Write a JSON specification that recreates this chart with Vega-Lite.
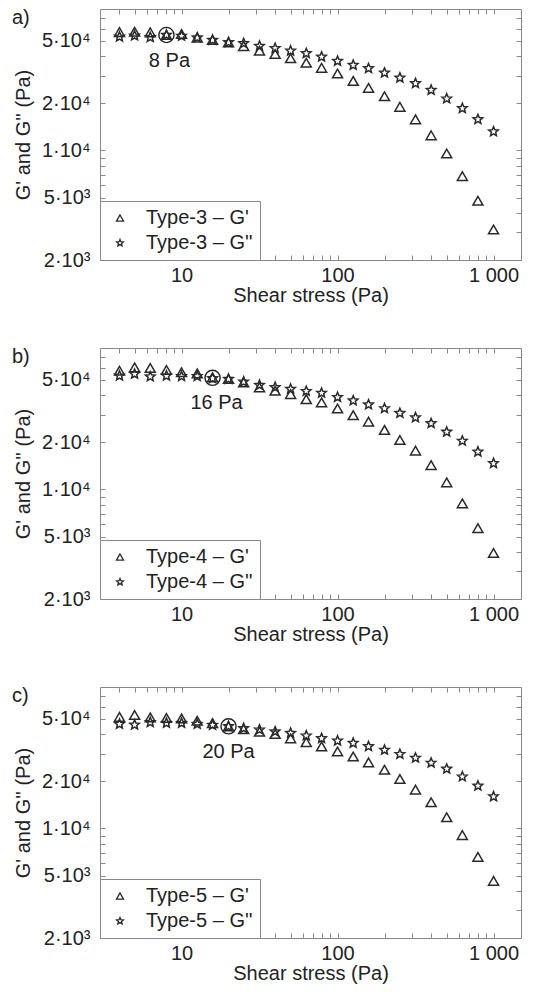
{
  "$schema": "https://vega.github.io/schema/vega-lite/v6.json",
  "padding": {"left": 11, "top": 7, "right": 5, "bottom": 5},
  "background": "white",
  "datasets": {
    "a": [
      {"s":4,"G":57000,"k":"Type-3 – G'"},{"s":5,"G":57300,"k":"Type-3 – G'"},{"s":6.3,"G":56800,"k":"Type-3 – G'"},{"s":8,"G":54600,"k":"Type-3 – G'"},{"s":10,"G":55400,"k":"Type-3 – G'"},{"s":12.6,"G":52500,"k":"Type-3 – G'"},{"s":15.8,"G":50700,"k":"Type-3 – G'"},{"s":20,"G":49000,"k":"Type-3 – G'"},{"s":25,"G":46400,"k":"Type-3 – G'"},{"s":31.6,"G":43300,"k":"Type-3 – G'"},{"s":39.8,"G":41300,"k":"Type-3 – G'"},{"s":50,"G":38800,"k":"Type-3 – G'"},{"s":63,"G":36300,"k":"Type-3 – G'"},{"s":79,"G":33700,"k":"Type-3 – G'"},{"s":100,"G":31000,"k":"Type-3 – G'"},{"s":126,"G":27800,"k":"Type-3 – G'"},{"s":158,"G":25100,"k":"Type-3 – G'"},{"s":200,"G":22200,"k":"Type-3 – G'"},{"s":251,"G":19000,"k":"Type-3 – G'"},{"s":316,"G":15800,"k":"Type-3 – G'"},{"s":398,"G":12500,"k":"Type-3 – G'"},{"s":501,"G":9570,"k":"Type-3 – G'"},{"s":631,"G":6860,"k":"Type-3 – G'"},{"s":794,"G":4780,"k":"Type-3 – G'"},{"s":1000,"G":3130,"k":"Type-3 – G'"},
      {"s":4,"G":53200,"k":"Type-3 – G''"},{"s":5,"G":54000,"k":"Type-3 – G''"},{"s":6.3,"G":52800,"k":"Type-3 – G''"},{"s":8,"G":54600,"k":"Type-3 – G''"},{"s":10,"G":53800,"k":"Type-3 – G''"},{"s":12.6,"G":52500,"k":"Type-3 – G''"},{"s":15.8,"G":50700,"k":"Type-3 – G''"},{"s":20,"G":49000,"k":"Type-3 – G''"},{"s":25,"G":48300,"k":"Type-3 – G''"},{"s":31.6,"G":46400,"k":"Type-3 – G''"},{"s":39.8,"G":44900,"k":"Type-3 – G''"},{"s":50,"G":43300,"k":"Type-3 – G''"},{"s":63,"G":41700,"k":"Type-3 – G''"},{"s":79,"G":39600,"k":"Type-3 – G''"},{"s":100,"G":37200,"k":"Type-3 – G''"},{"s":126,"G":35100,"k":"Type-3 – G''"},{"s":158,"G":33400,"k":"Type-3 – G''"},{"s":200,"G":31300,"k":"Type-3 – G''"},{"s":251,"G":29100,"k":"Type-3 – G''"},{"s":316,"G":26800,"k":"Type-3 – G''"},{"s":398,"G":24300,"k":"Type-3 – G''"},{"s":501,"G":21400,"k":"Type-3 – G''"},{"s":631,"G":18600,"k":"Type-3 – G''"},{"s":794,"G":15800,"k":"Type-3 – G''"},{"s":1000,"G":13200,"k":"Type-3 – G''"}
    ],
    "b": [
      {"s":4,"G":57300,"k":"Type-4 – G'"},{"s":5,"G":60200,"k":"Type-4 – G'"},{"s":6.3,"G":59600,"k":"Type-4 – G'"},{"s":8,"G":57900,"k":"Type-4 – G'"},{"s":10,"G":56000,"k":"Type-4 – G'"},{"s":12.6,"G":55100,"k":"Type-4 – G'"},{"s":15.8,"G":52000,"k":"Type-4 – G'"},{"s":20,"G":50700,"k":"Type-4 – G'"},{"s":25,"G":48300,"k":"Type-4 – G'"},{"s":31.6,"G":44900,"k":"Type-4 – G'"},{"s":39.8,"G":42700,"k":"Type-4 – G'"},{"s":50,"G":40600,"k":"Type-4 – G'"},{"s":63,"G":37700,"k":"Type-4 – G'"},{"s":79,"G":36000,"k":"Type-4 – G'"},{"s":100,"G":32900,"k":"Type-4 – G'"},{"s":126,"G":29800,"k":"Type-4 – G'"},{"s":158,"G":27100,"k":"Type-4 – G'"},{"s":200,"G":24000,"k":"Type-4 – G'"},{"s":251,"G":20700,"k":"Type-4 – G'"},{"s":316,"G":17700,"k":"Type-4 – G'"},{"s":398,"G":14300,"k":"Type-4 – G'"},{"s":501,"G":11100,"k":"Type-4 – G'"},{"s":631,"G":8150,"k":"Type-4 – G'"},{"s":794,"G":5670,"k":"Type-4 – G'"},{"s":1000,"G":3930,"k":"Type-4 – G'"},
      {"s":4,"G":53200,"k":"Type-4 – G''"},{"s":5,"G":54600,"k":"Type-4 – G''"},{"s":6.3,"G":52500,"k":"Type-4 – G''"},{"s":8,"G":53200,"k":"Type-4 – G''"},{"s":10,"G":52800,"k":"Type-4 – G''"},{"s":12.6,"G":52800,"k":"Type-4 – G''"},{"s":15.8,"G":51200,"k":"Type-4 – G''"},{"s":20,"G":50700,"k":"Type-4 – G''"},{"s":25,"G":48700,"k":"Type-4 – G''"},{"s":31.6,"G":46400,"k":"Type-4 – G''"},{"s":39.8,"G":44900,"k":"Type-4 – G''"},{"s":50,"G":43800,"k":"Type-4 – G''"},{"s":63,"G":42400,"k":"Type-4 – G''"},{"s":79,"G":41300,"k":"Type-4 – G''"},{"s":100,"G":38800,"k":"Type-4 – G''"},{"s":126,"G":36900,"k":"Type-4 – G''"},{"s":158,"G":34800,"k":"Type-4 – G''"},{"s":200,"G":32900,"k":"Type-4 – G''"},{"s":251,"G":30700,"k":"Type-4 – G''"},{"s":316,"G":28800,"k":"Type-4 – G''"},{"s":398,"G":26400,"k":"Type-4 – G''"},{"s":501,"G":23300,"k":"Type-4 – G''"},{"s":631,"G":20400,"k":"Type-4 – G''"},{"s":794,"G":17400,"k":"Type-4 – G''"},{"s":1000,"G":14700,"k":"Type-4 – G''"}
    ],
    "c": [
      {"s":4,"G":51600,"k":"Type-5 – G'"},{"s":5,"G":53000,"k":"Type-5 – G'"},{"s":6.3,"G":51200,"k":"Type-5 – G'"},{"s":8,"G":50700,"k":"Type-5 – G'"},{"s":10,"G":50400,"k":"Type-5 – G'"},{"s":12.6,"G":48700,"k":"Type-5 – G'"},{"s":15.8,"G":47100,"k":"Type-5 – G'"},{"s":20,"G":44900,"k":"Type-5 – G'"},{"s":25,"G":43100,"k":"Type-5 – G'"},{"s":31.6,"G":41500,"k":"Type-5 – G'"},{"s":39.8,"G":40100,"k":"Type-5 – G'"},{"s":50,"G":37600,"k":"Type-5 – G'"},{"s":63,"G":35500,"k":"Type-5 – G'"},{"s":79,"G":33400,"k":"Type-5 – G'"},{"s":100,"G":31000,"k":"Type-5 – G'"},{"s":126,"G":28800,"k":"Type-5 – G'"},{"s":158,"G":26400,"k":"Type-5 – G'"},{"s":200,"G":23700,"k":"Type-5 – G'"},{"s":251,"G":20700,"k":"Type-5 – G'"},{"s":316,"G":17700,"k":"Type-5 – G'"},{"s":398,"G":14700,"k":"Type-5 – G'"},{"s":501,"G":11800,"k":"Type-5 – G'"},{"s":631,"G":9080,"k":"Type-5 – G'"},{"s":794,"G":6590,"k":"Type-5 – G'"},{"s":1000,"G":4630,"k":"Type-5 – G'"},
      {"s":4,"G":46400,"k":"Type-5 – G''"},{"s":5,"G":45900,"k":"Type-5 – G''"},{"s":6.3,"G":47600,"k":"Type-5 – G''"},{"s":8,"G":47100,"k":"Type-5 – G''"},{"s":10,"G":47100,"k":"Type-5 – G''"},{"s":12.6,"G":46400,"k":"Type-5 – G''"},{"s":15.8,"G":45700,"k":"Type-5 – G''"},{"s":20,"G":44900,"k":"Type-5 – G''"},{"s":25,"G":43600,"k":"Type-5 – G''"},{"s":31.6,"G":42700,"k":"Type-5 – G''"},{"s":39.8,"G":41500,"k":"Type-5 – G''"},{"s":50,"G":40600,"k":"Type-5 – G''"},{"s":63,"G":39100,"k":"Type-5 – G''"},{"s":79,"G":37600,"k":"Type-5 – G''"},{"s":100,"G":36300,"k":"Type-5 – G''"},{"s":126,"G":35100,"k":"Type-5 – G''"},{"s":158,"G":33400,"k":"Type-5 – G''"},{"s":200,"G":31700,"k":"Type-5 – G''"},{"s":251,"G":29800,"k":"Type-5 – G''"},{"s":316,"G":28200,"k":"Type-5 – G''"},{"s":398,"G":26200,"k":"Type-5 – G''"},{"s":501,"G":24000,"k":"Type-5 – G''"},{"s":631,"G":21400,"k":"Type-5 – G''"},{"s":794,"G":18700,"k":"Type-5 – G''"},{"s":1000,"G":16000,"k":"Type-5 – G''"}
    ]
  },
  "vconcat": [
    {
      "width": 421, "height": 251,
      "title": {"text": "a)", "anchor": "start", "frame": "group", "dx": -88, "dy": 20, "offset": 0},
      "data": {"name": "a"},
      "layer": [
        {
          "mark": {"type": "point", "filled": false, "strokeWidth": 1.5, "color": "#2a2a2a", "opacity": 1, "size": 100},
          "encoding": {
            "x": {"field": "s", "type": "quantitative", "scale": {"type": "log", "domain": [3, 1500], "nice": false},
              "axis": {"orient": "bottom", "values": [4,5,6,7,8,9,10,20,30,40,50,60,70,80,90,100,200,300,400,500,600,700,800,900,1000], "labelExpr": "datum.value == 10 ? '10' : datum.value == 100 ? '100' : datum.value == 1000 ? '1 000' : ''", "title": "Shear stress (Pa)", "labelPadding": 10, "titlePadding": 0}},
            "y": {"field": "G", "type": "quantitative", "scale": {"type": "log", "domain": [2000, 80000], "nice": false},
              "axis": {"orient": "left", "values": [2000,3000,4000,5000,6000,7000,8000,9000,10000,20000,30000,40000,50000,60000,70000], "labelExpr": "datum.value == 2000 ? '2·10³' : datum.value == 5000 ? '5·10³' : datum.value == 10000 ? '1·10⁴' : datum.value == 20000 ? '2·10⁴' : datum.value == 50000 ? '5·10⁴' : ''", "title": "G' and G'' (Pa)", "labelPadding": 15, "titlePadding": 8}},
            "shape": {"field": "k", "type": "nominal", "scale": {"domain": ["Type-3 – G'", "Type-3 – G''"], "range": ["triangle-up", "M0,-1L0.2645,-0.364L0.951,-0.309L0.428,0.139L0.588,0.809L0,0.45L-0.588,0.809L-0.428,0.139L-0.951,-0.309L-0.2645,-0.364Z"]},
              "legend": {"orient": "bottom-left", "offset": 0, "title": null, "fillColor": "white", "strokeColor": "#888", "padding": 7, "labelFontSize": 20, "labelColor": "#222", "symbolSize": 50, "symbolStrokeWidth": 1.3, "symbolStrokeColor": "#2a2a2a", "symbolFillColor": "white", "rowPadding": 5, "symbolOffset": 3, "labelOffset": 16, "labelLimit": 300}}
          }
        },
        {
          "mark": {"type": "point", "opacity": 0},
          "encoding": {
            "x": {"field": "s", "type": "quantitative", "scale": {"type": "log", "domain": [3, 1500], "nice": false},
              "axis": {"orient": "top", "values": [4,5,6,7,8,9,10,20,30,40,50,60,70,80,90,100,200,300,400,500,600,700,800,900,1000], "labels": false, "title": null}},
            "y": {"field": "G", "type": "quantitative", "scale": {"type": "log", "domain": [2000, 80000], "nice": false},
              "axis": {"orient": "right", "values": [2000,3000,4000,5000,6000,7000,8000,9000,10000,20000,30000,40000,50000,60000,70000], "labels": false, "title": null}}
          }
        },
        {
          "data": {"values": [{"s": 8, "G": 54600, "t": "8 Pa"}]},
          "mark": {"type": "point", "shape": "circle", "filled": false, "size": 230, "color": "#222", "strokeWidth": 1.4, "opacity": 1},
          "encoding": {
            "x": {"field": "s", "type": "quantitative", "scale": {"type": "log", "domain": [3, 1500], "nice": false}, "axis": null},
            "y": {"field": "G", "type": "quantitative", "scale": {"type": "log", "domain": [2000, 80000], "nice": false}, "axis": null}
          }
        },
        {
          "data": {"values": [{"s": 8, "G": 54600, "t": "8 Pa"}]},
          "mark": {"type": "text", "fontSize": 20, "color": "#222", "dx": 3, "dy": 26},
          "encoding": {
            "x": {"field": "s", "type": "quantitative", "scale": {"type": "log", "domain": [3, 1500], "nice": false}, "axis": null},
            "y": {"field": "G", "type": "quantitative", "scale": {"type": "log", "domain": [2000, 80000], "nice": false}, "axis": null},
            "text": {"field": "t"}
          }
        }
      ],
      "resolve": {"axis": {"x": "independent", "y": "independent"}}
    },
    {
      "width": 421, "height": 251,
      "title": {"text": "b)", "anchor": "start", "frame": "group", "dx": -88, "dy": 20, "offset": 0},
      "data": {"name": "b"},
      "layer": [
        {
          "mark": {"type": "point", "filled": false, "strokeWidth": 1.5, "color": "#2a2a2a", "opacity": 1, "size": 100},
          "encoding": {
            "x": {"field": "s", "type": "quantitative", "scale": {"type": "log", "domain": [3, 1500], "nice": false},
              "axis": {"orient": "bottom", "values": [4,5,6,7,8,9,10,20,30,40,50,60,70,80,90,100,200,300,400,500,600,700,800,900,1000], "labelExpr": "datum.value == 10 ? '10' : datum.value == 100 ? '100' : datum.value == 1000 ? '1 000' : ''", "title": "Shear stress (Pa)", "labelPadding": 10, "titlePadding": 0}},
            "y": {"field": "G", "type": "quantitative", "scale": {"type": "log", "domain": [2000, 80000], "nice": false},
              "axis": {"orient": "left", "values": [2000,3000,4000,5000,6000,7000,8000,9000,10000,20000,30000,40000,50000,60000,70000], "labelExpr": "datum.value == 2000 ? '2·10³' : datum.value == 5000 ? '5·10³' : datum.value == 10000 ? '1·10⁴' : datum.value == 20000 ? '2·10⁴' : datum.value == 50000 ? '5·10⁴' : ''", "title": "G' and G'' (Pa)", "labelPadding": 15, "titlePadding": 8}},
            "shape": {"field": "k", "type": "nominal", "scale": {"domain": ["Type-4 – G'", "Type-4 – G''"], "range": ["triangle-up", "M0,-1L0.2645,-0.364L0.951,-0.309L0.428,0.139L0.588,0.809L0,0.45L-0.588,0.809L-0.428,0.139L-0.951,-0.309L-0.2645,-0.364Z"]},
              "legend": {"orient": "bottom-left", "offset": 0, "title": null, "fillColor": "white", "strokeColor": "#888", "padding": 7, "labelFontSize": 20, "labelColor": "#222", "symbolSize": 50, "symbolStrokeWidth": 1.3, "symbolStrokeColor": "#2a2a2a", "symbolFillColor": "white", "rowPadding": 5, "symbolOffset": 3, "labelOffset": 16, "labelLimit": 300}}
          }
        },
        {
          "mark": {"type": "point", "opacity": 0},
          "encoding": {
            "x": {"field": "s", "type": "quantitative", "scale": {"type": "log", "domain": [3, 1500], "nice": false},
              "axis": {"orient": "top", "values": [4,5,6,7,8,9,10,20,30,40,50,60,70,80,90,100,200,300,400,500,600,700,800,900,1000], "labels": false, "title": null}},
            "y": {"field": "G", "type": "quantitative", "scale": {"type": "log", "domain": [2000, 80000], "nice": false},
              "axis": {"orient": "right", "values": [2000,3000,4000,5000,6000,7000,8000,9000,10000,20000,30000,40000,50000,60000,70000], "labels": false, "title": null}}
          }
        },
        {
          "data": {"values": [{"s": 15.8, "G": 51600, "t": "16 Pa"}]},
          "mark": {"type": "point", "shape": "circle", "filled": false, "size": 230, "color": "#222", "strokeWidth": 1.4, "opacity": 1},
          "encoding": {
            "x": {"field": "s", "type": "quantitative", "scale": {"type": "log", "domain": [3, 1500], "nice": false}, "axis": null},
            "y": {"field": "G", "type": "quantitative", "scale": {"type": "log", "domain": [2000, 80000], "nice": false}, "axis": null}
          }
        },
        {
          "data": {"values": [{"s": 15.8, "G": 51600, "t": "16 Pa"}]},
          "mark": {"type": "text", "fontSize": 20, "color": "#222", "dx": 4, "dy": 25},
          "encoding": {
            "x": {"field": "s", "type": "quantitative", "scale": {"type": "log", "domain": [3, 1500], "nice": false}, "axis": null},
            "y": {"field": "G", "type": "quantitative", "scale": {"type": "log", "domain": [2000, 80000], "nice": false}, "axis": null},
            "text": {"field": "t"}
          }
        }
      ],
      "resolve": {"axis": {"x": "independent", "y": "independent"}}
    },
    {
      "width": 421, "height": 251,
      "title": {"text": "c)", "anchor": "start", "frame": "group", "dx": -88, "dy": 20, "offset": 0},
      "data": {"name": "c"},
      "layer": [
        {
          "mark": {"type": "point", "filled": false, "strokeWidth": 1.5, "color": "#2a2a2a", "opacity": 1, "size": 100},
          "encoding": {
            "x": {"field": "s", "type": "quantitative", "scale": {"type": "log", "domain": [3, 1500], "nice": false},
              "axis": {"orient": "bottom", "values": [4,5,6,7,8,9,10,20,30,40,50,60,70,80,90,100,200,300,400,500,600,700,800,900,1000], "labelExpr": "datum.value == 10 ? '10' : datum.value == 100 ? '100' : datum.value == 1000 ? '1 000' : ''", "title": "Shear stress (Pa)", "labelPadding": 10, "titlePadding": 0}},
            "y": {"field": "G", "type": "quantitative", "scale": {"type": "log", "domain": [2000, 80000], "nice": false},
              "axis": {"orient": "left", "values": [2000,3000,4000,5000,6000,7000,8000,9000,10000,20000,30000,40000,50000,60000,70000], "labelExpr": "datum.value == 2000 ? '2·10³' : datum.value == 5000 ? '5·10³' : datum.value == 10000 ? '1·10⁴' : datum.value == 20000 ? '2·10⁴' : datum.value == 50000 ? '5·10⁴' : ''", "title": "G' and G'' (Pa)", "labelPadding": 15, "titlePadding": 8}},
            "shape": {"field": "k", "type": "nominal", "scale": {"domain": ["Type-5 – G'", "Type-5 – G''"], "range": ["triangle-up", "M0,-1L0.2645,-0.364L0.951,-0.309L0.428,0.139L0.588,0.809L0,0.45L-0.588,0.809L-0.428,0.139L-0.951,-0.309L-0.2645,-0.364Z"]},
              "legend": {"orient": "bottom-left", "offset": 0, "title": null, "fillColor": "white", "strokeColor": "#888", "padding": 7, "labelFontSize": 20, "labelColor": "#222", "symbolSize": 50, "symbolStrokeWidth": 1.3, "symbolStrokeColor": "#2a2a2a", "symbolFillColor": "white", "rowPadding": 5, "symbolOffset": 3, "labelOffset": 16, "labelLimit": 300}}
          }
        },
        {
          "mark": {"type": "point", "opacity": 0},
          "encoding": {
            "x": {"field": "s", "type": "quantitative", "scale": {"type": "log", "domain": [3, 1500], "nice": false},
              "axis": {"orient": "top", "values": [4,5,6,7,8,9,10,20,30,40,50,60,70,80,90,100,200,300,400,500,600,700,800,900,1000], "labels": false, "title": null}},
            "y": {"field": "G", "type": "quantitative", "scale": {"type": "log", "domain": [2000, 80000], "nice": false},
              "axis": {"orient": "right", "values": [2000,3000,4000,5000,6000,7000,8000,9000,10000,20000,30000,40000,50000,60000,70000], "labels": false, "title": null}}
          }
        },
        {
          "data": {"values": [{"s": 20, "G": 44900, "t": "20 Pa"}]},
          "mark": {"type": "point", "shape": "circle", "filled": false, "size": 230, "color": "#222", "strokeWidth": 1.4, "opacity": 1},
          "encoding": {
            "x": {"field": "s", "type": "quantitative", "scale": {"type": "log", "domain": [3, 1500], "nice": false}, "axis": null},
            "y": {"field": "G", "type": "quantitative", "scale": {"type": "log", "domain": [2000, 80000], "nice": false}, "axis": null}
          }
        },
        {
          "data": {"values": [{"s": 20, "G": 44900, "t": "20 Pa"}]},
          "mark": {"type": "text", "fontSize": 20, "color": "#222", "dx": 0, "dy": 26},
          "encoding": {
            "x": {"field": "s", "type": "quantitative", "scale": {"type": "log", "domain": [3, 1500], "nice": false}, "axis": null},
            "y": {"field": "G", "type": "quantitative", "scale": {"type": "log", "domain": [2000, 80000], "nice": false}, "axis": null},
            "text": {"field": "t"}
          }
        }
      ],
      "resolve": {"axis": {"x": "independent", "y": "independent"}}
    }
  ],
  "spacing": 40,
  "resolve": {"scale": {"shape": "independent"}, "legend": {"shape": "independent"}},
  "config": {
    "font": "Liberation Sans",
    "view": {"stroke": "#888", "strokeWidth": 1},
    "axis": {"domain": false, "grid": false, "ticks": true, "tickSize": -5, "tickColor": "#888", "labelFontSize": 20, "titleFontSize": 20, "titleFontWeight": "normal", "labelColor": "#222", "titleColor": "#222", "labelOverlap": false, "labelFlush": false},
    "title": {"fontSize": 20, "fontWeight": "normal", "color": "#222"}
  }
}
